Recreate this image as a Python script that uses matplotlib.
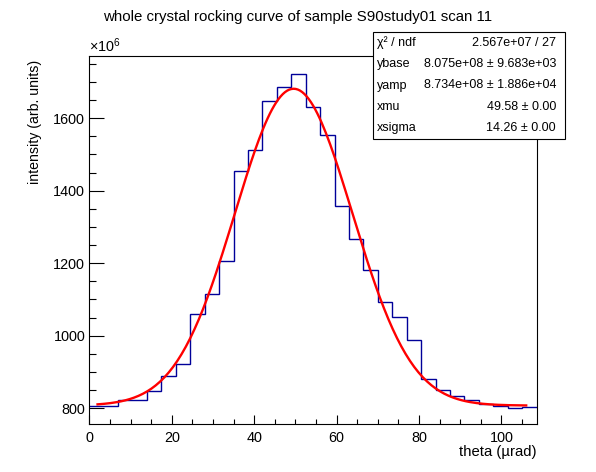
import numpy as np
import matplotlib as mpl
mpl.use('Agg')  # Use a non-interactive backend
from matplotlib import pyplot as plt
from matplotlib.patches import Rectangle

plt.rcParams['font.family'] = ['Liberation Sans', 'DejaVu Sans']
plt.rcParams['mathtext.fontset'] = 'custom'
plt.rcParams['mathtext.rm'] = 'Liberation Sans'

# Histogram: theta bins [urad] and intensity in units of 1e6
bin_width = 3.5
n_bins = 31
counts = [
    806, 806, 822, 822, 847, 889, 921, 1059, 1115, 1205,
    1453, 1511, 1646, 1685, 1722, 1630, 1553, 1359, 1268, 1180,
    1092, 1051, 987, 880, 850, 833, 822, 811, 806, 800, 803
]

# Gaussian fit on a constant base (y in units of 1e6)
ybase = 807.5
yamp = 873.4
xmu = 49.58
xsigma = 14.26
fit_range = (2.0, 106.0)

stat_labels = ['\u03c7\u00b2 / ndf', 'ybase', 'yamp', 'xmu', 'xsigma']
stat_values = [
    '2.567e+07 / 27',
    '8.075e+08 \u00b1 9.683e+03',
    '8.734e+08 \u00b1 1.886e+04',
    '49.58 \u00b1 0.00',
    '14.26 \u00b1 0.00',
]

title = 'whole crystal rocking curve of sample S90study01 scan 11'


W, H = 596, 472
fig = plt.figure(figsize=(W / 100, H / 100), dpi=100)
ax = fig.add_axes([89.3 / W, 1 - 423.7 / H, 447.2 / W, 368.0 / H])

edges = np.arange(n_bins + 1) * bin_width
ax.stairs(counts, edges, baseline=None, color='#000099', lw=1.0)

x_fit = np.linspace(fit_range[0], fit_range[1], 200)
y_fit = ybase + yamp * np.exp(-0.5 * ((x_fit - xmu) / xsigma) ** 2)
ax.plot(x_fit, y_fit, color='#ff0000', lw=1.7)

ax.set_xlim(edges[0], edges[-1])
ax.set_ylim(757.5, 1772)

ax.set_xticks(np.arange(0, 101, 20))
ax.set_xticks(np.arange(0, 109, 5), minor=True)
ax.set_yticks(np.arange(800, 1601, 200))
ax.set_yticks(np.arange(800, 1772, 50), minor=True)
ax.tick_params(axis='both', which='both', direction='in',
               top=False, right=False, labelsize=10.4, width=0.8)
ax.tick_params(axis='y', which='major', length=10.6, pad=3)
ax.tick_params(axis='y', which='minor', length=5.3)
ax.tick_params(axis='x', which='major', length=6.7, pad=5)
ax.tick_params(axis='x', which='minor', length=3.4)
for spine in ax.spines.values():
    spine.set_linewidth(0.8)

ax.text(0.0, 1.003, r'$\times10^{6}$', transform=ax.transAxes,
        ha='left', va='bottom', fontsize=10.4)

fig.text(0.5, 1 - 17 / H, title, ha='center', va='center', fontsize=10.8)
fig.text(35 / W, 1 - 60 / H, 'intensity (arb. units)', rotation=90,
         ha='center', va='top', fontsize=10.2)
fig.text(536.5 / W, 1 - 452 / H, 'theta (\u00b5rad)',
         ha='right', va='center', fontsize=10.7)

# Fit statistics box
box_l, box_r, box_t, box_b = 373.0, 565.0, 32.0, 139.0
fig.patches.append(Rectangle(
    (box_l / W, 1 - box_b / H), (box_r - box_l) / W, (box_b - box_t) / H,
    transform=fig.transFigure, facecolor='white', edgecolor='black',
    lw=0.8, zorder=5
))
row_h = (box_b - box_t) / len(stat_labels)
for i, (lab, val) in enumerate(zip(stat_labels, stat_values)):
    y = 1 - (box_t + (i + 0.5) * row_h) / H
    fig.text((box_l + 4) / W, y, lab, ha='left', va='center',
             fontsize=9, zorder=6)
    fig.text((box_r - 9) / W, y, val, ha='right', va='center',
             fontsize=9, zorder=6)

fig.savefig('out.png', dpi=100)
